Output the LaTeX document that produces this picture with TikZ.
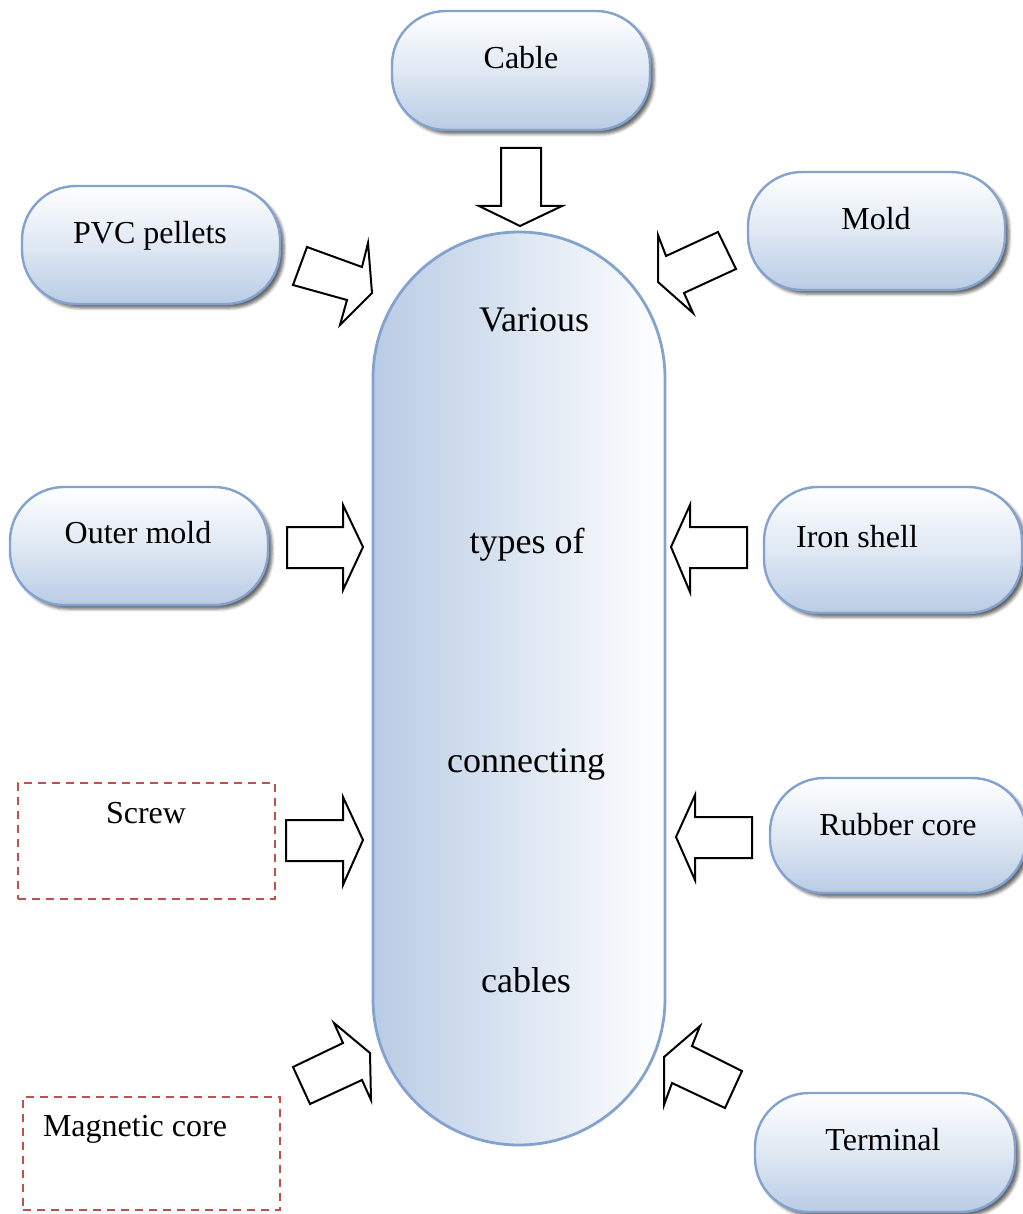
\documentclass[tikz,border=0pt]{standalone}
\usepackage{fontspec}
\setmainfont{Liberation Serif}
\usetikzlibrary{shadows.blur}
\definecolor{pillline}{RGB}{132,162,206}
\definecolor{pillblue}{RGB}{185,204,229}
\definecolor{dashred}{RGB}{192,80,77}

\begin{document}
\begin{tikzpicture}[x=0.5pt,y=-0.5pt,
  pill/.style 2 args={draw=pillline, line width=1.2pt, rounded corners=27pt,
    top color=white, bottom color=pillblue, middle color=pillblue!45!white,
    minimum width=#1, minimum height=#2, inner sep=0pt,
    blur shadow={shadow xshift=2pt, shadow yshift=-2pt, shadow blur radius=1.5pt, shadow opacity=60}},
  dashbox/.style 2 args={draw=dashred, line width=1.2pt, dash pattern=on 4pt off 3pt,
    minimum width=#1, minimum height=#2, inner sep=0pt},
  lbl/.style={anchor=base, font=\fontsize{16}{19}\selectfont, inner sep=0pt},
  biglbl/.style={anchor=base, font=\fontsize{18}{21}\selectfont, inner sep=0pt},
  blockarrow/.style={draw=black, line width=1pt, fill=white, line join=miter}]
\useasboundingbox (0,0) rectangle (1022,1214);

% central capsule
\node[draw=pillline, line width=1.4pt, rounded corners=73pt, left color=pillblue, right color=white,
  minimum width=146pt, minimum height=456.5pt, inner sep=0pt] (center) at (519,688.5) {};
\node[biglbl] (t1) at (534,331) {Various};
\node[biglbl] (t2) at (527,553) {types of};
\node[biglbl] (t3) at (526,772) {connecting};
\node[biglbl] (t4) at (526,992) {cables};

% input boxes
\node[pill={129pt}{59.5pt}] (cable) at (521,70.5) {};
\node[lbl] (cablet) at (521,69) {Cable};
\node[pill={129pt}{59pt}] (pvc) at (151,245) {};
\node[lbl] (pvct) at (150,243) {PVC pellets};
\node[pill={128.5pt}{59pt}] (mold) at (876.5,231) {};
\node[lbl] (moldt) at (876,229) {Mold};
\node[pill={129pt}{59pt}] (outer) at (139,546) {};
\node[lbl] (outert) at (138,543) {Outer mold};
\node[pill={129pt}{63pt}] (iron) at (893,550) {};
\node[lbl] (ront) at (857,547) {Iron shell};
\node[pill={128pt}{57.5pt}] (rubber) at (898,835.5) {};
\node[lbl] (rubbert) at (898,835) {Rubber core};
\node[pill={130pt}{59.5pt}] (term) at (885,1152.5) {};
\node[lbl] (termt) at (883,1150) {Terminal};
\node[dashbox={128.5pt}{58pt}] (screw) at (146.5,841) {};
\node[lbl] (screwt) at (146,823) {Screw};
\node[dashbox={128.5pt}{56.5pt}] (magnet) at (151.5,1153.5) {};
\node[lbl] (magnett) at (135,1136) {Magnetic core};

% block arrows towards the capsule
\draw[blockarrow] (501,148) -- (541,148) -- (541,206) -- (562,206) -- (520,226)
  -- (479,206) -- (501,206) -- cycle;
\draw[blockarrow] (293,285) -- (307,247) -- (362,267) -- (368,243) -- (372,293)
  -- (340,325) -- (347,300) -- cycle;
\draw[blockarrow] (658,235) -- (666,256) -- (718,232) -- (736,269) -- (684,293)
  -- (693,313) -- (658,282) -- cycle;
\draw[blockarrow] (287,527) -- (343,527) -- (343,505) -- (363,547) -- (343,590)
  -- (343,568) -- (287,568) -- cycle;
\draw[blockarrow] (747,527) -- (690,527) -- (690,505) -- (671,547) -- (690,592)
  -- (690,568) -- (747,568) -- cycle;
\draw[blockarrow] (286,820) -- (343,820) -- (343,797) -- (363,840) -- (343,885)
  -- (343,861) -- (286,861) -- cycle;
\draw[blockarrow] (752,817) -- (695,817) -- (695,795) -- (676,837) -- (695,880)
  -- (695,858) -- (752,858) -- cycle;
\draw[blockarrow] (293,1067) -- (343,1043) -- (334,1023) -- (370,1053) -- (371,1100)
  -- (362,1080) -- (310,1104) -- cycle;
\draw[blockarrow] (664,1057) -- (700,1026) -- (692,1046) -- (742,1071) -- (725,1108)
  -- (672,1083) -- (664,1105) -- cycle;
\end{tikzpicture}
\end{document}
